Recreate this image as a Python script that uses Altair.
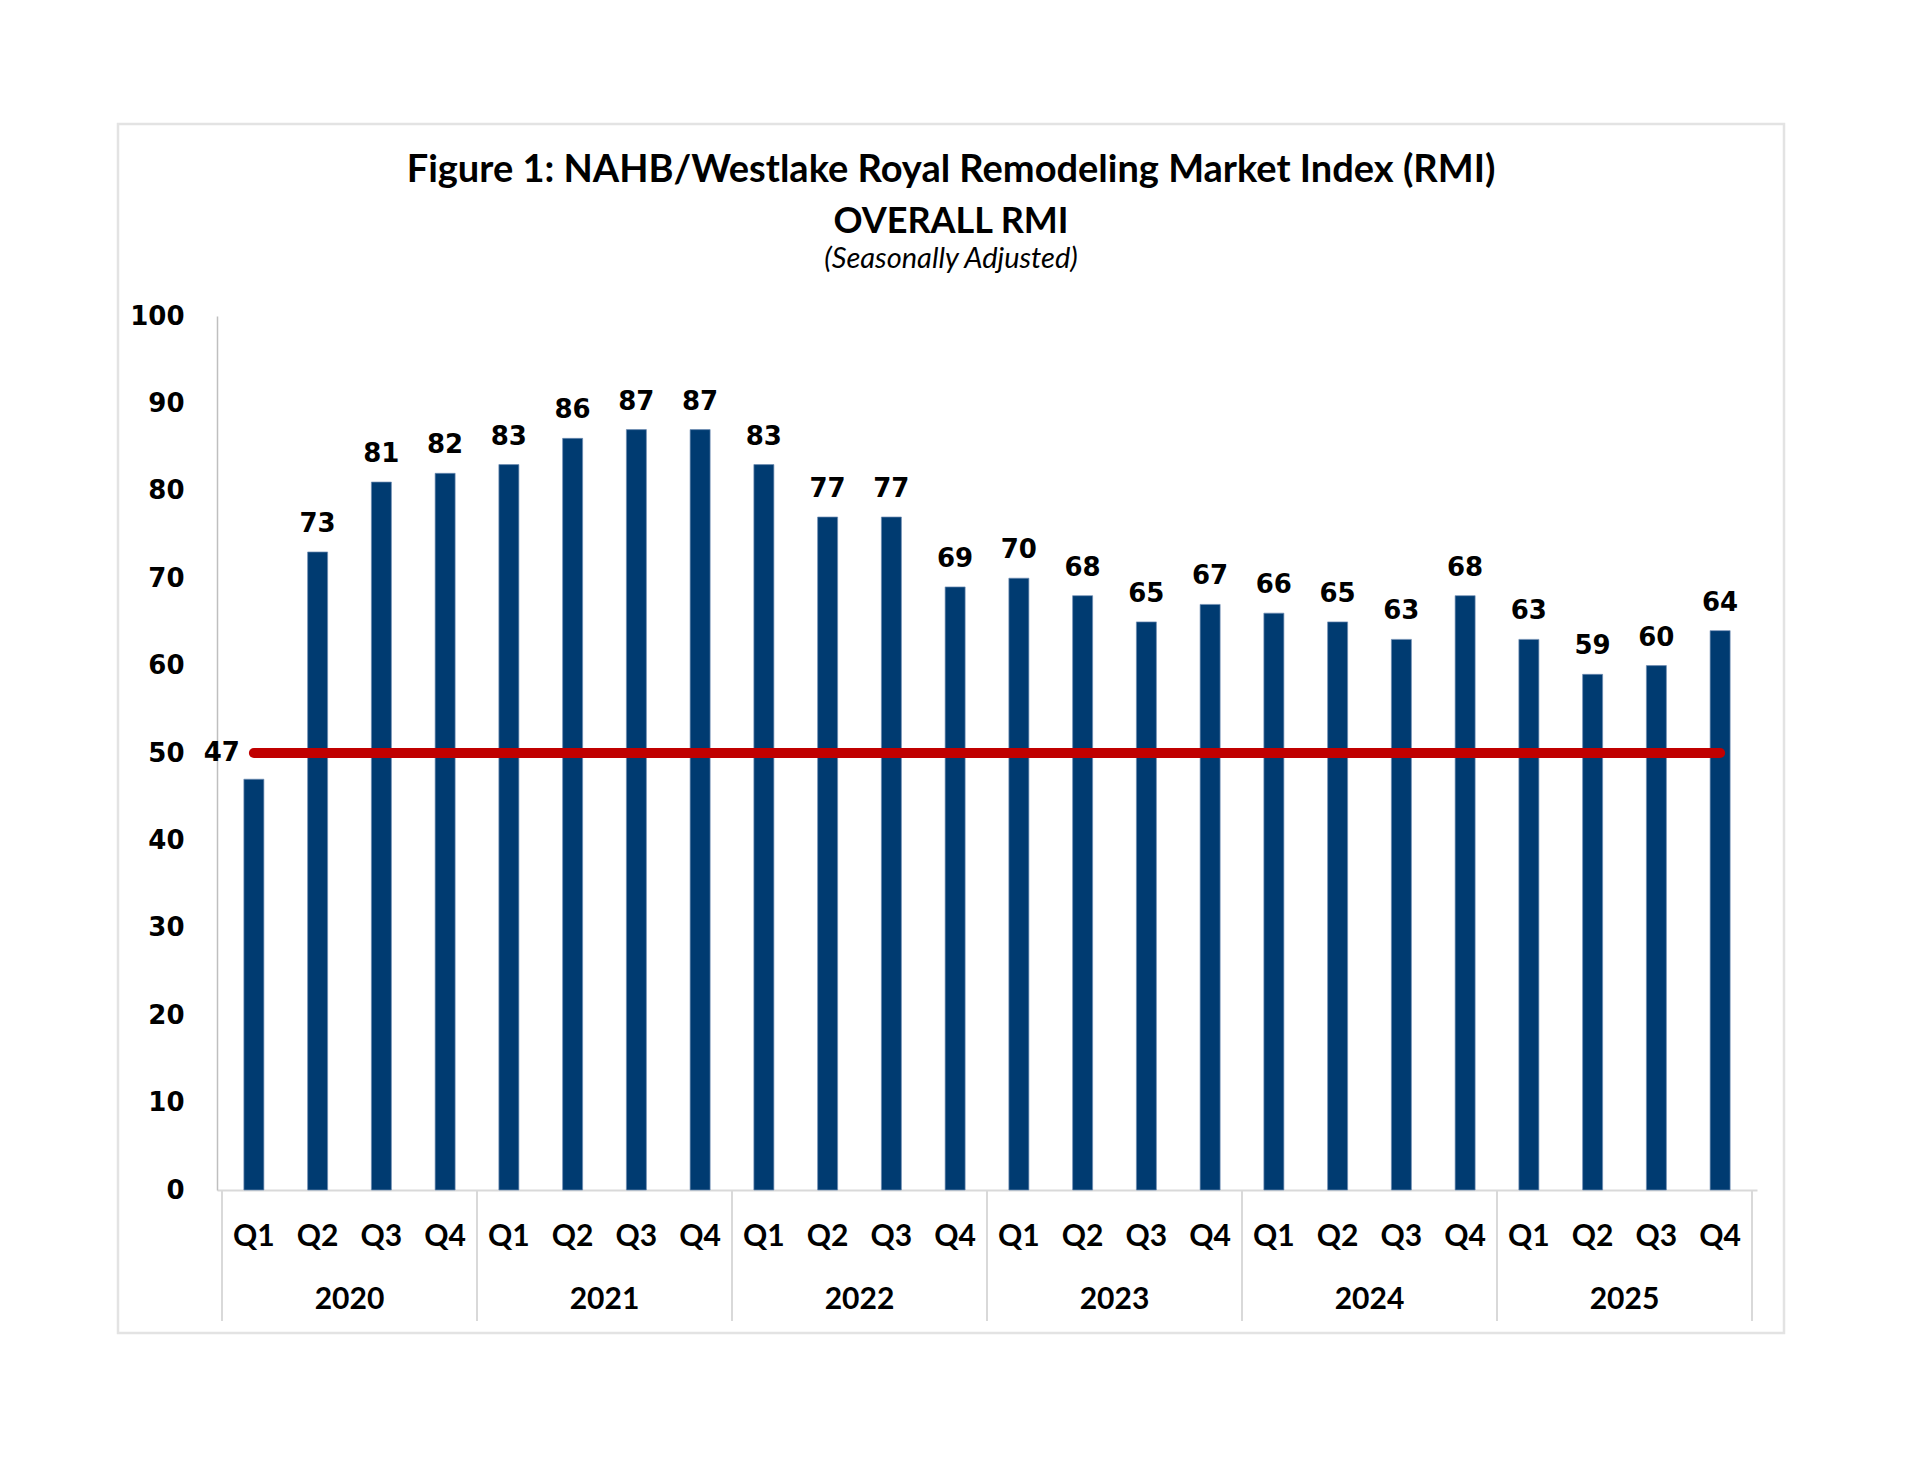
import altair as alt
import pandas as pd

# ---------------- data ----------------
years = ["2020", "2021", "2022", "2023", "2024", "2025"]
quarters = ["Q1", "Q2", "Q3", "Q4"]
rmi = [47, 73, 81, 82, 83, 86, 87, 87, 83, 77, 77, 69,
       70, 68, 65, 67, 66, 65, 63, 68, 63, 59, 60, 64]
threshold = 50
y_ticks = list(range(0, 101, 10))
title_lines = ["Figure 1: NAHB/Westlake Royal Remodeling Market Index (RMI)", "OVERALL RMI"]
subtitle = "(Seasonally Adjusted)"

# ---------------- tables ----------------
df = pd.DataFrame({
    "pos": [i + 0.5 for i in range(len(rmi))],
    "quarter": [quarters[i % 4] for i in range(len(rmi))],
    "year": [years[i // 4] for i in range(len(rmi))],
    "value": rmi,
})
year_df = pd.DataFrame({"year": years, "mid": [4 * k + 2 for k in range(len(years))]})
sep_df = pd.DataFrame({"edge": [4 * k for k in range(len(years) + 1)]})
ref_df = pd.DataFrame({"start": [0.5], "end": [len(rmi) - 0.5], "level": [threshold]})
one = pd.DataFrame({"k": [0]})

W, H = 1540, 874
CAL = "Lato"
NUM = "DejaVu Sans"
BAR = "#003B71"
RED = "#C00000"
GRID = "#D9D9D9"

x_scale = alt.Scale(domain=[0, len(rmi)], nice=False, zero=False)
y_scale = alt.Scale(domain=[0, 100], nice=False)

bars = alt.Chart(df).mark_bar(size=20, color=BAR, stroke="#6F8DB3", strokeWidth=0.7).encode(
    x=alt.X("pos:Q", scale=x_scale,
            axis=alt.Axis(labels=False, ticks=False, grid=False, title=None,
                          domainColor=GRID, domainWidth=2)),
    y=alt.Y("value:Q", scale=y_scale,
            axis=alt.Axis(values=y_ticks, ticks=False, grid=False, title=None,
                          labelFont=NUM, labelFontWeight="bold", labelFontSize=26,
                          labelColor="black", labelPadding=33,
                          domainColor="#BFBFBF", domainWidth=1.5)),
)

ref_line = alt.Chart(ref_df).mark_rule(color=RED, strokeWidth=10, strokeCap="round").encode(
    x=alt.X("start:Q", scale=x_scale),
    x2="end:Q",
    y=alt.Y("level:Q", scale=y_scale),
)

labels = alt.Chart(df).transform_filter("datum.pos > 1").mark_text(
    font=NUM, fontWeight="bold", fontSize=26, color="black",
    baseline="alphabetic", dy=-20,
).encode(
    x=alt.X("pos:Q", scale=x_scale),
    y=alt.Y("value:Q", scale=y_scale),
    text="value:Q",
)

first_label = alt.Chart(df).transform_filter("datum.pos < 1").mark_text(
    font=NUM, fontWeight="bold", fontSize=26, color="black",
    align="right", baseline="middle", dx=-14,
).encode(
    x=alt.X("pos:Q", scale=x_scale),
    y=alt.datum(threshold, scale=y_scale),
    text="value:Q",
)

q_labels = alt.Chart(df).mark_text(
    font=CAL, fontWeight="bold", fontSize=30, color="black", baseline="middle",
).encode(
    x=alt.X("pos:Q", scale=x_scale),
    y=alt.value(921),
    text="quarter:N",
)

year_labels = alt.Chart(year_df).mark_text(
    font=CAL, fontWeight="bold", fontSize=30, color="black", baseline="middle",
).encode(
    x=alt.X("mid:Q", scale=x_scale),
    y=alt.value(984),
    text="year:N",
)

separators = alt.Chart(sep_df).mark_rule(color=GRID, strokeWidth=2).encode(
    x=alt.X("edge:Q", scale=x_scale),
    y=alt.value(H),
    y2=alt.value(1005),
)

frame = alt.Chart(one).mark_rect(fill="white", fillOpacity=0, stroke="#E3E3E3", strokeWidth=2.5).encode(
    x=alt.value(-99), x2=alt.value(1567), y=alt.value(-192), y2=alt.value(1017),
)

title1 = alt.Chart(one).mark_text(
    text=title_lines[0], font=CAL, fontWeight="bold", fontSize=38, color="black",
    align="center", baseline="alphabetic",
).encode(x=alt.value(734), y=alt.value(-134))

title2 = alt.Chart(one).mark_text(
    text=title_lines[1], font=CAL, fontWeight="bold", fontSize=36, color="black",
    align="center", baseline="alphabetic",
).encode(x=alt.value(734), y=alt.value(-83))

sub = alt.Chart(one).mark_text(
    text=subtitle, font=CAL, fontStyle="italic", fontSize=29, color="black",
    align="center", baseline="alphabetic",
).encode(x=alt.value(734), y=alt.value(-48))

chart = alt.layer(
    bars, frame, separators, ref_line, labels, first_label, q_labels, year_labels,
    title1, title2, sub,
).properties(
    width=W, height=H,
    autosize=alt.AutoSizeParams(type="none"),
    padding={"left": 209, "top": 308, "right": 155, "bottom": 265},
    background="white",
).configure_view(stroke=None)

chart.save("out.html", embed_options={"renderer": "svg", "actions": False})
